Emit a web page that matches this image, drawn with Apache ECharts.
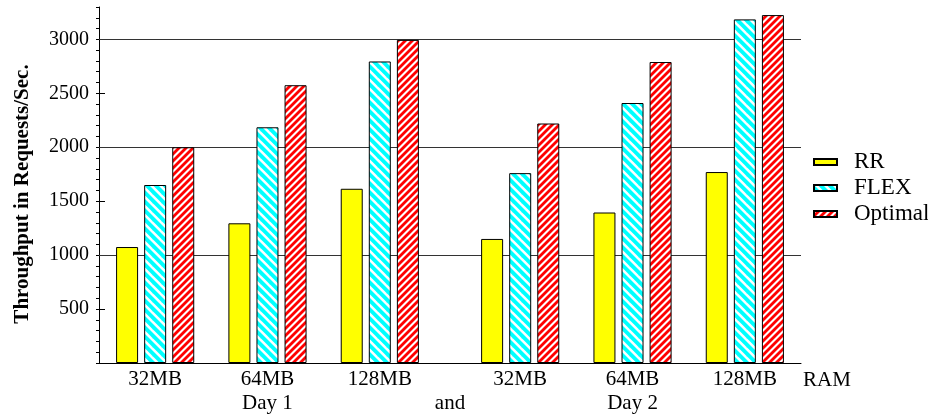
<!DOCTYPE html>
<html>
<head>
<meta charset="utf-8">
<script src="https://cdn.jsdelivr.net/npm/echarts@6/dist/echarts.min.js"></script>
<style>
html,body{margin:0;padding:0;background:#fff;}
#chart{width:928px;height:417px;}
</style>
</head>
<body>
<div id="chart"></div>
<script>
// ---- data ----
const categories = ['32MB', '64MB', '128MB', '32MB', '64MB', '128MB'];
const dayLabels = ['Day 1', 'and', 'Day 2'];
const seriesNames = ['RR', 'FLEX', 'Optimal'];
const rrValues = [1075, 1295, 1615, 1150, 1395, 1770];
const flexValues = [1650, 2185, 2795, 1760, 2410, 3185];
const optimalValues = [2000, 2575, 2995, 2220, 2790, 3225];
const yTickLabels = [500, 1000, 1500, 2000, 2500, 3000];
const gridLineValues = [1000, 2000, 3000];

// ---- layout helpers (slots on a linear x scale) ----
function slot(i) { return i < 3 ? 2 + 4 * i : 3 + 4 * i; }
const centers = categories.map((c, i) => slot(i));
const dayPositions = [slot(1), (slot(2) + slot(3)) / 2, slot(4)];
const majorTicks = [0].concat(yTickLabels);

function stripes(base, period, width, dir) {
  const c = document.createElement('canvas');
  c.width = period; c.height = period;
  const g = c.getContext('2d');
  g.fillStyle = base; g.fillRect(0, 0, period, period);
  g.fillStyle = '#ffffff';
  for (let k = -2; k <= 2; k++) {
    const x = k * period;
    g.beginPath();
    if (dir === 'back') {
      g.moveTo(x, 0); g.lineTo(x + width, 0);
      g.lineTo(x + width + period, period); g.lineTo(x + period, period);
    } else {
      g.moveTo(x, period); g.lineTo(x + width, period);
      g.lineTo(x + width + period, 0); g.lineTo(x + period, 0);
    }
    g.closePath(); g.fill();
  }
  return { image: c, repeat: 'repeat' };
}

const FONT = 'Liberation Serif';
const fills = ['#ffff00', stripes('#00ffff', 9, 3.6, 'back'), stripes('#ff0000', 7, 3, 'fwd')];
const values = [rrValues, flexValues, optimalValues];
const offsets = [-1, 0, 1];

const series = seriesNames.map((name, s) => {
  const obj = {
    name: name,
    type: 'bar',
    xAxisIndex: 0,
    yAxisIndex: 0,
    barWidth: 22,
    barGap: '-100%',
    z: 3,
    itemStyle: { color: fills[s], borderColor: '#000', borderWidth: 1 },
    data: values[s].map((v, i) => [centers[i] + offsets[s], v])
  };
  if (s === 0) {
    obj.markLine = {
      silent: true,
      z: 1,
      symbol: ['none', 'none'],
      label: { show: false },
      lineStyle: { color: '#333', width: 1, type: 'solid' },
      data: gridLineValues.map(v => ({ yAxis: v }))
    };
  }
  return obj;
});

const chart = echarts.init(document.getElementById('chart'));
chart.setOption({
  animation: false,
  backgroundColor: '#fff',
  grid: { left: 99, right: 127, top: 7, bottom: 54, containLabel: false },
  legend: {
    orient: 'vertical',
    left: 808,
    top: 145,
    itemWidth: 23,
    itemHeight: 6,
    itemGap: 2,
    icon: 'rect',
    data: seriesNames,
    textStyle: { fontFamily: FONT, fontSize: 23, color: '#000', lineHeight: 24, padding: [0, 0, 0, 12] }
  },
  xAxis: [
    {
      type: 'value', min: 0, max: 25, position: 'bottom',
      axisLine: { show: true, lineStyle: { color: '#000', width: 1 } },
      axisTick: { show: false },
      splitLine: { show: false },
      axisLabel: {
        customValues: centers,
        formatter: v => { const k = centers.indexOf(v); return k >= 0 ? categories[k] : ''; },
        fontFamily: FONT, fontSize: 21, color: '#000', margin: 6
      },
      name: 'RAM', nameLocation: 'end', nameGap: 2,
      nameTextStyle: { fontFamily: FONT, fontSize: 21, color: '#000', verticalAlign: 'top', padding: [7, 0, 0, 0] }
    },
    {
      type: 'value', min: 0, max: 25, position: 'bottom', offset: 24,
      axisLine: { show: false }, axisTick: { show: false }, splitLine: { show: false },
      axisLabel: {
        customValues: dayPositions,
        formatter: v => { const k = dayPositions.indexOf(v); return k >= 0 ? dayLabels[k] : ''; },
        fontFamily: FONT, fontSize: 21, color: '#000', margin: 6
      }
    }
  ],
  yAxis: [
    {
      type: 'value', min: 0, max: 3300, interval: 100,
      axisLine: { show: true, lineStyle: { color: '#000', width: 1 } },
      axisTick: { show: true, length: 3, lineStyle: { color: '#000' } },
      splitLine: { show: false },
      axisLabel: { customValues: yTickLabels, formatter: v => String(v), fontFamily: FONT, fontSize: 20, color: '#000', margin: 10 },
      name: 'Throughput in Requests/Sec.',
      nameLocation: 'middle', nameGap: 66,
      nameTextStyle: { fontFamily: FONT, fontSize: 21, fontWeight: 'bold', color: '#000', padding: [0, 18, 0, 0] }
    },
    {
      type: 'value', min: 0, max: 3300, interval: 100,
      axisLine: { show: false },
      axisTick: { show: true, length: 6, customValues: majorTicks, lineStyle: { color: '#000' } },
      axisLabel: { show: false },
      splitLine: { show: false }
    }
  ],
  series: series
});
</script>
</body>
</html>
